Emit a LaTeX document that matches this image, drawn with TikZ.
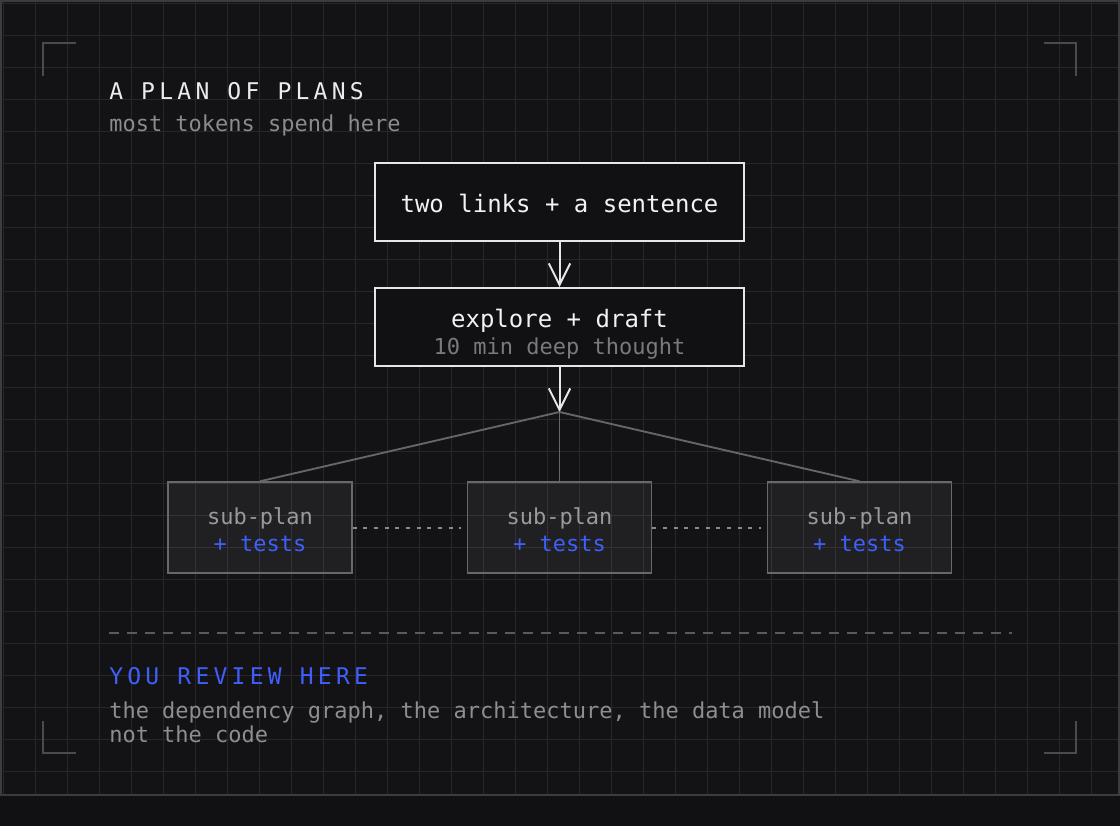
\documentclass[tikz,border=0pt]{standalone}
\usepackage{fontspec}
\setmainfont{DejaVu Sans Mono}
\newfontfamily\plainmono{DejaVu Sans Mono}
\newfontfamily\spacedmono{DejaVu Sans Mono}[LetterSpace=18.5]
\usetikzlibrary{arrows.meta,calc}
\definecolor{stripcol}{HTML}{111113}
\definecolor{bgcol}{HTML}{131316}
\definecolor{gridcol}{HTML}{27272B}
\definecolor{bordercol}{HTML}{3C3C3E}
\definecolor{cornercol}{HTML}{4B4B4D}
\definecolor{titlecol}{HTML}{ECECEC}
\definecolor{subcol}{HTML}{8B8B8B}
\definecolor{boxline}{HTML}{E6E6E6}
\definecolor{boxfill}{HTML}{111113}
\definecolor{boxtxt}{HTML}{F2F2F2}
\definecolor{dimtxt}{HTML}{7A7A7A}
\definecolor{fancol}{HTML}{666666}
\definecolor{subline}{HTML}{686868}
\definecolor{subtxt}{HTML}{9A9A9A}
\definecolor{bluecol}{HTML}{3F5FFB}
\definecolor{dotcol}{HTML}{8A8A8A}
\definecolor{sepcol}{HTML}{5A5A5A}
\definecolor{bottxt}{HTML}{8E8E8E}
\begin{document}
\begin{tikzpicture}[x=0.75pt,y=-0.75pt,
  mainbox/.style={draw=boxline, line width=1.5pt, fill=boxfill, inner sep=0pt,
    minimum width=276.75pt, minimum height=58.5pt},
  subbox/.style={draw=subline, line width=1.1pt, fill=white, fill opacity=0.06,
    draw opacity=1, inner sep=0pt, minimum width=138pt, minimum height=68.25pt},
  arrowline/.style={draw=boxline, line width=1.5pt,
    -{Straight Barb[length=16pt,width=16pt]}},
  fanline/.style={draw=fancol, line width=1.4pt},
  dotline/.style={draw=dotcol, line width=1.5pt, dash pattern=on 3pt off 5pt},
  sepline/.style={draw=sepcol, line width=1.5pt, dash pattern=on 7.5pt off 6pt},
  cornermark/.style={draw=cornercol, line width=1.5pt},
  headtext/.style={inner sep=0pt, anchor=base west,
    font=\spacedmono\fontsize{17.25pt}{20pt}\selectfont},
  leftsmall/.style={inner sep=0pt, anchor=base west,
    font=\plainmono\fontsize{16.5pt}{20pt}\selectfont},
  boxlabel/.style={inner sep=0pt, anchor=base, text=boxtxt,
    font=\plainmono\fontsize{18pt}{20pt}\selectfont},
  smalllabel/.style={inner sep=0pt, anchor=base,
    font=\plainmono\fontsize{16.5pt}{20pt}\selectfont}
]
\useasboundingbox (0,0) rectangle (1120,826);
\fill[stripcol] (0,0) rectangle (1120,826);
\fill[bgcol] (0,0) rectangle (1120,796);
% grid
\foreach \gx in {0,...,34} {
  \draw[gridcol, line width=0.75pt] ({3+32*\gx},0) -- ({3+32*\gx},796);
}
\foreach \gy in {0,...,24} {
  \draw[gridcol, line width=0.75pt] (0,{3+32*\gy}) -- (1120,{3+32*\gy});
}
\draw[bordercol, line width=1.5pt] (1,1) rectangle (1119,795);
% corner marks
\draw[cornermark] (43,76) -- (43,43) -- (76,43);
\draw[cornermark] (1044,43) -- (1076,43) -- (1076,76);
\draw[cornermark] (43,721) -- (43,753) -- (76,753);
\draw[cornermark] (1044,753) -- (1076,753) -- (1076,721);
% header
\node[headtext, text=titlecol] (title) at (109,99.5) {A PLAN OF PLANS};
\node[leftsmall, text=subcol] (subtitle) at (109,131) {most tokens spend here};
% main boxes
\node[mainbox] (b1) at (559.5,202) {};
\node[boxlabel] (b1t) at (559.5,212) {two links + a sentence};
\node[mainbox] (b2) at (559.5,327) {};
\node[boxlabel] (b2t) at (559.5,327.3) {explore + draft};
\node[smalllabel, text=dimtxt] (b2s) at (559.5,354.5) {10 min deep thought};
\coordinate (fan) at (559.5,412);
\draw[arrowline] (b1.south) -- (b2.north);
\draw[arrowline] (b2.south) -- (fan);
% sub boxes
\node[subbox] (sA) at (260,527.5) {};
\node[subbox] (sB) at (559.5,527.5) {};
\node[subbox] (sC) at (859.5,527.5) {};
\foreach \n/\cx in {sA/260,sB/559.5,sC/859.5} {
  \node[smalllabel, text=subtxt] (\n t) at (\cx,524) {sub-plan};
  \node[smalllabel, text=bluecol] (\n b) at (\cx,551.7) {+ tests};
}
\draw[fanline] (fan) -- (sA.north);
\draw[fanline] (fan) -- (sB.north);
\draw[fanline] (fan) -- (sC.north);
\draw[dotline] (sA.east) -- ($(sB.west)+(-6,0)$);
\draw[dotline] (sB.east) -- ($(sC.west)+(-6,0)$);
% separator
\coordinate (sepL) at (109,633);
\coordinate (sepR) at (1012,633);
\draw[sepline] (sepL) -- (sepR);
% footer
\node[headtext, text=bluecol] (review) at (109,684.5) {YOU REVIEW HERE};
\node[leftsmall, text=bottxt] (f1) at (109,718) {the dependency graph, the architecture, the data model};
\node[leftsmall, text=bottxt] (f2) at (109,742) {not the code};
\end{tikzpicture}
\end{document}
